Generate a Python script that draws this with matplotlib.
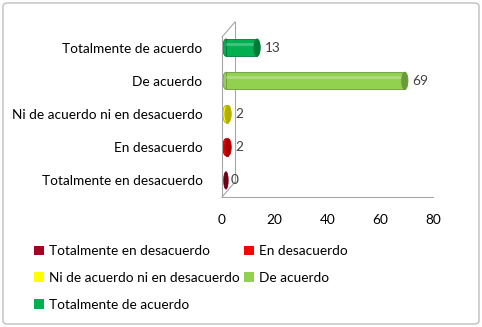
import matplotlib
matplotlib.use("Agg")
import matplotlib.pyplot as plt
from matplotlib.patches import Ellipse, FancyBboxPatch, Patch
from matplotlib.lines import Line2D

categories = ["Totalmente en desacuerdo", "En desacuerdo", "Ni de acuerdo ni en desacuerdo",
              "De acuerdo", "Totalmente de acuerdo"]
values = [0, 2, 2, 69, 13]
colors = ["#A50021", "#FF0000", "#FFFF00", "#92D050", "#00B050"]
edge_colors = ["#6E0016", "#B00000", "#B0B000", "#6A9A3A", "#007A38"]
xticks = [0, 20, 40, 60, 80]

plt.rcParams['font.family'] = ['Lato', 'DejaVu Sans']
W, H = 482, 327
fig = plt.figure(figsize=(W/100, H/100), dpi=100)

# figure border
fig.patches.append(FancyBboxPatch((3/W, 3/H), 1-6/W, 1-6/H, boxstyle="round,pad=0,rounding_size=0.01",
                                  transform=fig.transFigure, fill=False, ec="#BFBFBF", lw=1))

l, r, t, b = 222, 433, 31, 197
ax = fig.add_axes([l/W, 1-b/H, (r-l)/W, (b-t)/H])
ax.set_xlim(0, 80)
ax.set_ylim(-0.5, 4.5)
for s in ["top", "right", "left"]:
    ax.spines[s].set_visible(False)
ax.spines["bottom"].set_color("#A6A6A6")
ax.set_xticks(xticks)
ax.tick_params(axis="x", length=0, labelsize=9.8, pad=12)
ax.set_yticks(range(len(categories)))
ax.set_yticklabels(categories)
ax.tick_params(axis="y", length=0, labelsize=9.8, pad=14)

# 3D wall decoration
dx, dy = 13/(r-l)*80, 15/(b-t)*5
wall = dict(color="#A6A6A6", lw=0.8, clip_on=False)
ax.add_line(Line2D([0, 0], [-0.5, 4.5 - dy*0.4], **wall))
ax.add_line(Line2D([dx, dx], [-0.5 + dy, 4.5 + dy*0.6], **wall))
ax.add_line(Line2D([0, dx], [4.5 - dy*0.4, 4.5 + dy*0.6], **wall))
ax.add_line(Line2D([0, dx], [-0.5, -0.5 + dy], **wall))

bar_h = 0.52
x0 = 1.5
ew = 2.4
for i, (v, c, ec) in enumerate(zip(values, colors, edge_colors)):
    if v > 0:
        ax.barh(i, v - ew/2, left=x0, height=bar_h, color=c, edgecolor=ec, lw=0.6, zorder=2)
        ax.add_patch(Ellipse((x0, i), ew, bar_h, fc=c, ec=ec, lw=0.6, zorder=1.5))
        ax.add_patch(Ellipse((x0 + v - ew/2, i), ew, bar_h, fc=ec, ec=ec, lw=0.6, zorder=3))
        ax.barh(i + bar_h*0.18, v - ew/2, left=x0, height=bar_h*0.15, color="white", alpha=0.25, lw=0, zorder=2.5)
    else:
        ax.add_patch(Ellipse((x0, i), ew*0.7, bar_h, fc=ec, ec=ec, lw=0.6, zorder=3))
    ax.text(x0 + v + ew/2 + 0.5, i, str(v), va="center", ha="left", fontsize=9.8, color="#404040")

order = [0, 2, 4, 1, 3]
handles = [Patch(facecolor=colors[k], edgecolor="none") for k in order]
labels = [categories[k] for k in order]
fig.legend(handles, labels, loc="upper left", bbox_to_anchor=(22/W, 1-233/H), ncol=2,
           frameon=False, fontsize=9.8, handlelength=0.7, handleheight=0.7, handletextpad=0.4,
           labelspacing=1.08, columnspacing=0.3)

fig.savefig("out.png", dpi=100)
